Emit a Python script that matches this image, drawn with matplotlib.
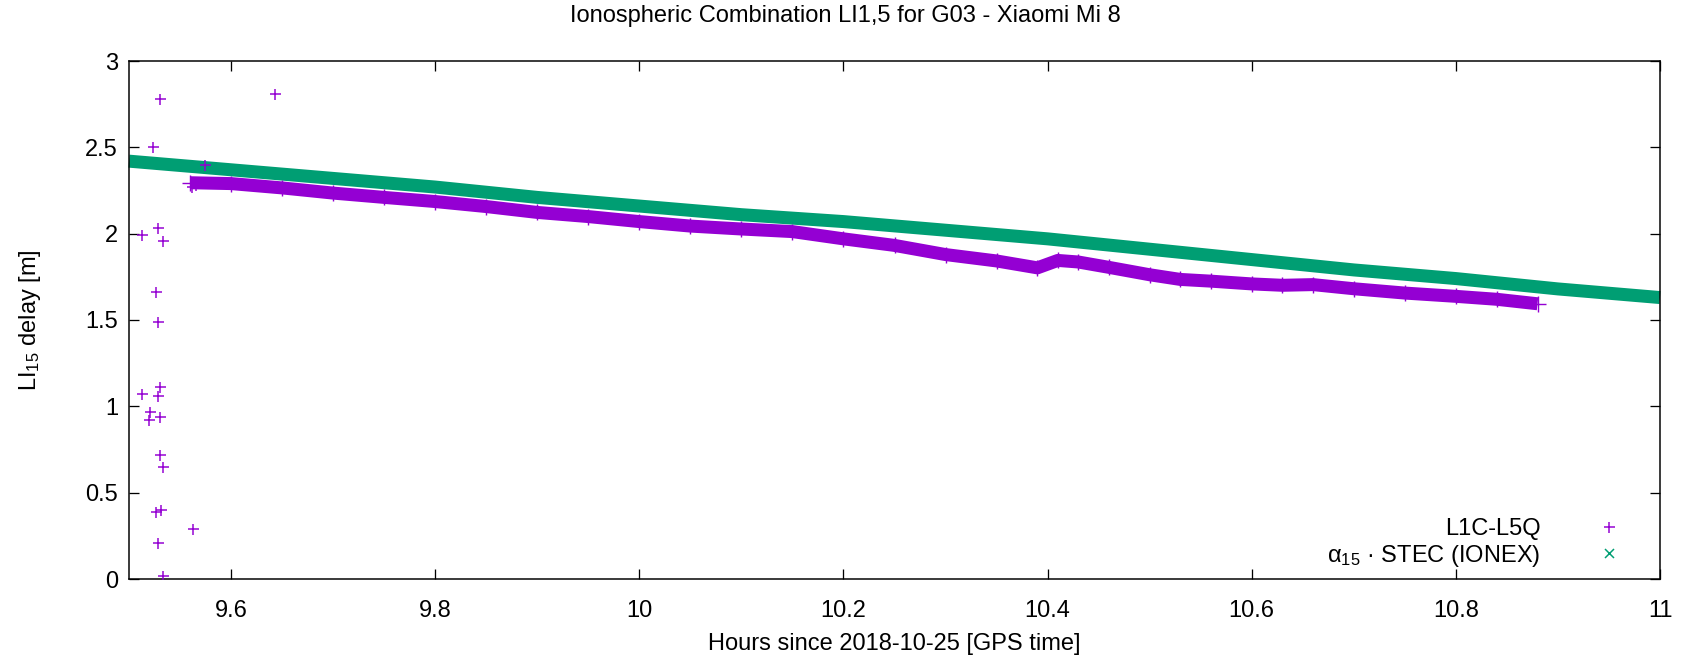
#!/usr/bin/env python3
"""Ionospheric combination LI1,5 for G03 (Xiaomi Mi 8) vs IONEX STEC."""
import numpy as np
import matplotlib
matplotlib.use('Agg')
import matplotlib.pyplot as plt

# L1C-L5Q: isolated early epochs (hours, metres)
l1c_outlier_hours = [9.530, 9.643, 9.524, 9.513, 9.528, 9.533, 9.526, 9.528,
                     9.513, 9.530, 9.528, 9.521, 9.520, 9.530, 9.530, 9.533,
                     9.526, 9.531, 9.563, 9.528, 9.533, 9.574, 9.562, 9.566]
l1c_outlier_values = [2.78, 2.81, 2.50, 1.99, 2.03, 1.96, 1.66, 1.49,
                      1.07, 1.11, 1.06, 0.97, 0.92, 0.94, 0.72, 0.65,
                      0.39, 0.40, 0.29, 0.21, 0.02, 2.40, 2.27, 2.28]

# L1C-L5Q: continuous track (read along the centre of the band)
l1c_hours = [9.56, 9.60, 9.65, 9.70, 9.75, 9.80, 9.85, 9.90, 9.95, 10.00,
             10.05, 10.10, 10.15, 10.20, 10.25, 10.30, 10.35, 10.39, 10.41,
             10.43, 10.46, 10.50, 10.53, 10.56, 10.60, 10.63, 10.66, 10.70,
             10.75, 10.80, 10.84, 10.88]
l1c_values = [2.295, 2.29, 2.265, 2.235, 2.21, 2.186, 2.157, 2.123, 2.099, 2.07,
              2.044, 2.027, 2.012, 1.97, 1.932, 1.879, 1.842, 1.802, 1.845,
              1.836, 1.805, 1.762, 1.735, 1.725, 1.709, 1.701, 1.705, 1.681,
              1.656, 1.637, 1.62, 1.594]

# alpha_15 * STEC from IONEX
stec_hours = [9.5, 9.6, 9.7, 9.8, 9.9, 10.0, 10.1, 10.2, 10.3, 10.4,
              10.5, 10.6, 10.7, 10.8, 10.9, 11.0]
stec_values = [2.42, 2.37, 2.32, 2.27, 2.21, 2.16, 2.11, 2.07, 2.02, 1.97,
               1.91, 1.85, 1.79, 1.74, 1.68, 1.63]

xticks = [9.6, 9.8, 10.0, 10.2, 10.4, 10.6, 10.8, 11.0]
xtick_labels = ['9.6', '9.8', '10', '10.2', '10.4', '10.6', '10.8', '11']
yticks = [0, 0.5, 1, 1.5, 2, 2.5, 3]
ytick_labels = ['0', '0.5', '1', '1.5', '2', '2.5', '3']

PURPLE = '#9400d3'
GREEN = '#009e73'
DPI = 100
px = 72.0 / DPI  # one pixel in points

plt.rcParams['font.family'] = ['Liberation Sans', 'DejaVu Sans']
plt.rcParams['mathtext.fontset'] = 'custom'
plt.rcParams['mathtext.rm'] = 'Liberation Sans'
plt.rcParams['mathtext.it'] = 'Liberation Sans'
plt.rcParams['font.size'] = 17

fig = plt.figure(figsize=(16.90, 6.63), dpi=DPI)
ax = fig.add_axes([129 / 1690, 1 - 579 / 663, 1531 / 1690, 518 / 663])

# green band (dense 'x' points in the original)
ax.plot(stec_hours, stec_values, '-', color=GREEN, lw=13 * px,
        solid_capstyle='butt', zorder=2, clip_on=False)

# purple band
ax.plot(l1c_hours, l1c_values, '-', color=PURPLE, lw=13 * px,
        solid_capstyle='butt', zorder=3)
ax.plot(l1c_hours, l1c_values, '+', color=PURPLE, ms=16 * px,
        mew=1.4 * px, zorder=3)
ax.plot(l1c_outlier_hours, l1c_outlier_values, '+', color=PURPLE,
        ms=11 * px, mew=1.5 * px, ls='none', zorder=3)

ax.set_xlim(9.5, 11)
ax.set_ylim(0, 3)
ax.set_xticks(xticks)
ax.set_xticklabels(xtick_labels)
ax.set_yticks(yticks)
ax.set_yticklabels(ytick_labels)
ax.tick_params(direction='in', length=10 * px, width=1.3 * px,
               top=True, right=True, color='black')
ax.tick_params(axis='x', pad=15)
ax.tick_params(axis='y', pad=8)
for s in ax.spines.values():
    s.set_linewidth(1.5 * px)

ax.set_xlabel('Hours since 2018-10-25 [GPS time]')
ax.xaxis.set_label_coords(0.5, -0.105)
ax.set_ylabel(r'LI$_{15}$ delay [m]')
ax.yaxis.set_label_coords(-0.056, 0.5)

fig.text(0.5, 1 - 16 / 663, 'Ionospheric Combination LI1,5 for G03 - Xiaomi Mi 8',
         ha='center', va='center', fontsize=17)

# gnuplot-like key: text right aligned, symbol after it
h1, = ax.plot([], [], '+', color=PURPLE, ms=11 * px, mew=1.5 * px)
h2, = ax.plot([], [], 'x', color=GREEN, ms=9 * px, mew=1.5 * px)
ax.legend([h1, h2], ['L1C-L5Q', 'α$_{15}$ · STEC (IONEX)'],
          loc='lower right', bbox_to_anchor=(0.982, 0.02), markerfirst=False,
          frameon=False, handlelength=2.0, handletextpad=1.9,
          labelspacing=0.1, borderpad=0, borderaxespad=0)

fig.savefig('out.png', dpi=DPI)
plt.close(fig)
